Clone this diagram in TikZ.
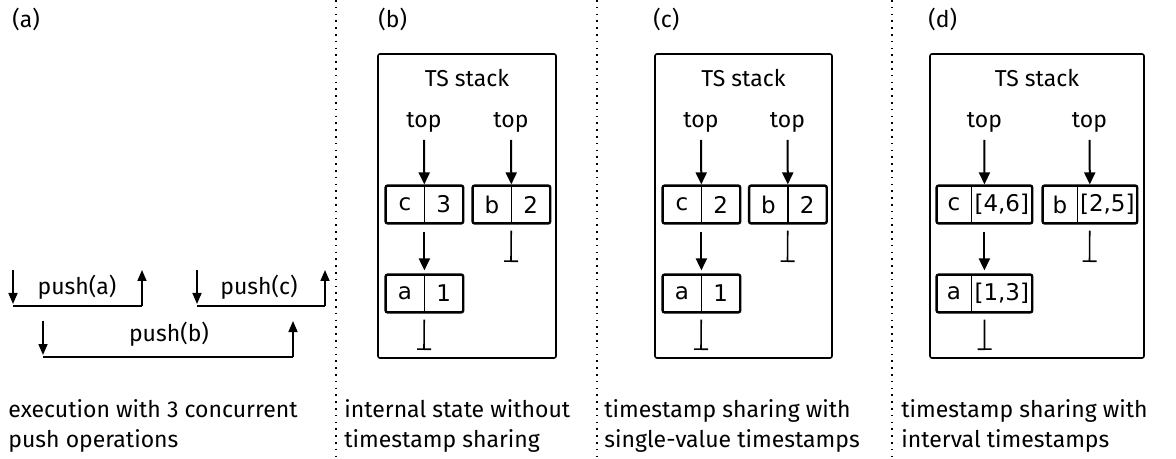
\documentclass[tikz,border=0pt]{standalone}
\usepackage{fontspec}
\setmainfont{Fira Sans}
\newfontfamily\cellfont{DejaVu Sans}
\usetikzlibrary{positioning,fit,arrows.meta}

\tikzset{
  panel/.style={draw,line width=0.8pt,rounded corners=1pt},
  keypart/.style={minimum width=19pt,minimum height=18.5pt,inner sep=0pt,font=\cellfont\fontsize{11.5}{13}\selectfont},
  valpart/.style={keypart},
  widepart/.style={keypart,minimum width=30pt},
  cellbox/.style={draw,line width=1.2pt,rounded corners=1pt,inner sep=0pt,fit=#1},
  divider/.style={line width=0.6pt},
  ptr/.style={line width=1pt,-{Triangle[width=5.5pt,length=6pt]}},
  nil/.style={line width=0.8pt,-{Bar[width=7pt]},shorten <=3pt},
  call/.style={line width=0.8pt,-{Triangle[width=4.5pt,length=5.5pt]}},
  interval/.style={line width=1pt},
  sep/.style={line width=0.8pt,dash pattern=on 0.8pt off 2.6pt},
}

\begin{document}
\begin{tikzpicture}[x=0.5pt,y=-0.5pt,font=\fontsize{11.5}{15}\selectfont]
\useasboundingbox (0,0) rectangle (1176,459);

%%%%%%%%%%%%%%%%%%%%%% SEPARATORS
\draw[sep] (336,0) -- (336,459);
\draw[sep] (597,0) -- (597,459);
\draw[sep] (892,0) -- (892,459);

%%%%%%%%%%%%%%%%%%%%%% (a) EXECUTION
\node[anchor=base west,inner sep=0pt] (La) at (12,28) {(a)};

\coordinate (A1) at (13,306);
\coordinate (A2) at (142,306);
\coordinate (A1t) at (13,270);
\coordinate (A2t) at (142,270);
\draw[interval] (A1) -- (A2);
\draw[call] (A1t) -- ([yshift=1pt]A1);
\draw[call] (A2) -- (A2t);
\node[anchor=base] (pa) at (77,295) {push(a)};

\coordinate (C1) at (197,306);
\coordinate (C2) at (325,306);
\coordinate (C1t) at (197,270);
\coordinate (C2t) at (325,270);
\draw[interval] (C1) -- (C2);
\draw[call] (C1t) -- ([yshift=1pt]C1);
\draw[call] (C2) -- (C2t);
\node[anchor=base] (pc) at (259,295) {push(c)};

\coordinate (B1) at (43,357);
\coordinate (B2) at (293,357);
\coordinate (B1t) at (43,321);
\coordinate (B2t) at (293,321);
\draw[interval] (B1) -- (B2);
\draw[call] (B1t) -- ([yshift=1pt]B1);
\draw[call] (B2) -- (B2t);
\node[anchor=base] (pb) at (169,342) {push(b)};

\node[anchor=base west,align=left,inner sep=0pt] (Ta) at (8,447) {execution with 3 concurrent\\push operations};

%%%%%%%%%%%%%%%%%%%%%% (b) NO SHARING
\node[anchor=base west,inner sep=0pt] (Lb) at (378,28) {(b)};
\draw[panel] (378,54) rectangle (556,358);
\node[anchor=base] (Sb) at (467,87) {TS stack};

\node[keypart] (bck) at (405,204.5) {c};
\node[valpart,right=0pt of bck] (bcv) {3};
\node[cellbox=(bck)(bcv)] (bc) {};
\draw[divider] (bck.north east) -- (bck.south east);

\node[keypart] (bbk) at (492,204.5) {b};
\node[valpart,right=0pt of bbk] (bbv) {2};
\node[cellbox=(bbk)(bbv)] (bb) {};
\draw[divider] (bbk.north east) -- (bbk.south east);

\node[keypart] (bak) at (405,293.5) {a};
\node[valpart,right=0pt of bak] (bav) {1};
\node[cellbox=(bak)(bav)] (ba) {};
\draw[divider] (bak.north east) -- (bak.south east);

\node[anchor=base] (btop1) at (424,128) {top};
\node[anchor=base] (btop2) at (511,128) {top};
\draw[ptr] (btop1) -- (bc);
\draw[ptr] (btop2) -- (bb);
\draw[ptr,shorten <=3.5pt,shorten >=1.5pt] (bc) -- (ba);
\coordinate (banil) at (424,350);
\coordinate (bbnil) at (511,262);
\draw[nil] (ba) -- (banil);
\draw[nil] (bb) -- (bbnil);

\node[anchor=base west,align=left,inner sep=0pt] (Tb) at (344,447) {internal state without\\timestamp sharing};

%%%%%%%%%%%%%%%%%%%%%% (c) SINGLE-VALUE
\node[anchor=base west,inner sep=0pt] (Lc) at (653,28) {(c)};
\draw[panel] (655,54) rectangle (832,358);
\node[anchor=base] (Sc) at (743.5,87) {TS stack};

\node[keypart] (cck) at (682,204.5) {c};
\node[valpart,right=0pt of cck] (ccv) {2};
\node[cellbox=(cck)(ccv)] (cc) {};
\draw[divider] (cck.north east) -- (cck.south east);

\node[keypart] (cbk) at (768.5,204.5) {b};
\node[valpart,right=0pt of cbk] (cbv) {2};
\node[cellbox=(cbk)(cbv)] (cb) {};
\draw[divider] (cbk.north east) -- (cbk.south east);

\node[keypart] (cak) at (682,293.5) {a};
\node[valpart,right=0pt of cak] (cav) {1};
\node[cellbox=(cak)(cav)] (ca) {};
\draw[divider] (cak.north east) -- (cak.south east);

\node[anchor=base] (ctop1) at (701,128) {top};
\node[anchor=base] (ctop2) at (787.5,128) {top};
\draw[ptr] (ctop1) -- (cc);
\draw[ptr] (ctop2) -- (cb);
\draw[ptr,shorten <=3.5pt,shorten >=1.5pt] (cc) -- (ca);
\coordinate (canil) at (701,350);
\coordinate (cbnil) at (787.5,262);
\draw[nil] (ca) -- (canil);
\draw[nil] (cb) -- (cbnil);

\node[anchor=base west,align=left,inner sep=0pt] (Tc) at (604,447) {timestamp sharing with\\single-value timestamps};

%%%%%%%%%%%%%%%%%%%%%% (d) INTERVALS
\node[anchor=base west,inner sep=0pt] (Ld) at (928,28) {(d)};
\draw[panel] (930,54) rectangle (1144,358);
\node[anchor=base] (Sd) at (1037,87) {TS stack};

\node[keypart,minimum width=17pt] (dck) at (954,204.5) {c};
\node[widepart,right=0pt of dck] (dcv) {[4,6]};
\node[cellbox=(dck)(dcv)] (dc) {};
\draw[divider] (dck.north east) -- (dck.south east);

\node[keypart,minimum width=17pt] (dbk) at (1060,204.5) {b};
\node[widepart,minimum width=29.5pt,right=0pt of dbk] (dbv) {[2,5]};
\node[cellbox=(dbk)(dbv)] (db) {};
\draw[divider] (dbk.north east) -- (dbk.south east);

\node[keypart,minimum width=17pt] (dak) at (954,293.5) {a};
\node[widepart,right=0pt of dak] (dav) {[1,3]};
\node[cellbox=(dak)(dav)] (da) {};
\draw[divider] (dak.north east) -- (dak.south east);

\node[anchor=base] (dtop1) at (984.5,128) {top};
\node[anchor=base] (dtop2) at (1089.5,128) {top};
\draw[ptr] (dtop1) -- (dc);
\draw[ptr] (dtop2) -- (db);
\draw[ptr,shorten <=3.5pt,shorten >=1.5pt] (dc) -- (da);
\coordinate (danil) at (984.5,350);
\coordinate (dbnil) at (1089.5,262);
\draw[nil] (da) -- (danil);
\draw[nil] (db) -- (dbnil);

\node[anchor=base west,align=left,inner sep=0pt] (Td) at (901,447) {timestamp sharing with\\interval timestamps};

\end{tikzpicture}
\end{document}
